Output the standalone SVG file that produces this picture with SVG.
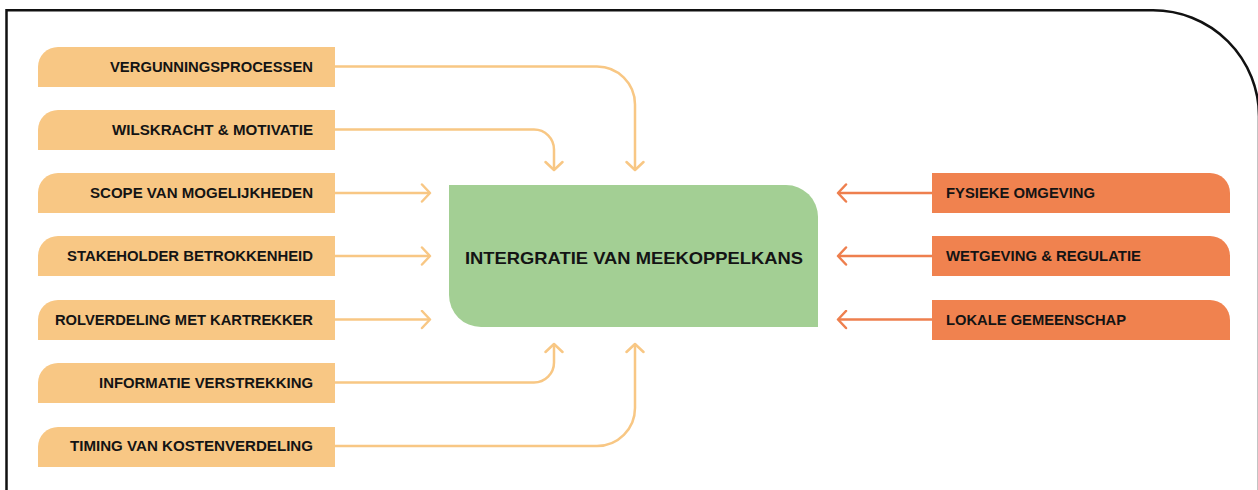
<svg xmlns="http://www.w3.org/2000/svg" width="1258" height="490" viewBox="0 0 1258 490">
<style>
.lb{fill:#F8C784}
.rb{fill:#F0824F}
.t{font-family:"Liberation Sans",Arial,sans-serif;font-weight:bold;font-size:14px;fill:#141414}
.ln{fill:none;stroke:#F8C784;stroke-width:2.5}
.rn{fill:none;stroke:#EE7F4E;stroke-width:2.5}
</style>
<defs>
<marker id="aL" markerUnits="userSpaceOnUse" markerWidth="20" markerHeight="20" viewBox="-10 -10 20 20" refX="0" refY="0" orient="auto">
<path d="M-8,-8.5 L0,0 L-8,8.5" fill="none" stroke="#F8C784" stroke-width="2.5" stroke-linecap="round" stroke-linejoin="round"/>
</marker>
<marker id="aR" markerUnits="userSpaceOnUse" markerWidth="20" markerHeight="20" viewBox="-10 -10 20 20" refX="0" refY="0" orient="auto">
<path d="M-8,-8.5 L0,0 L-8,8.5" fill="none" stroke="#EE7F4E" stroke-width="2.5" stroke-linecap="round" stroke-linejoin="round"/>
</marker>
</defs>
<rect width="1258" height="490" fill="#fff"/>
<path d="M6.5,492 L6.5,10.3 L1153,10.3 A106,106 0 0 1 1259,116.3 L1259,492" fill="none" stroke="#111" stroke-width="2.5"/>

<g id="connectors">
<path class="ln" d="M335,66.5 L597,66.5 A38,38 0 0 1 635,104.5 L635,170" marker-end="url(#aL)"/>
<path class="ln" d="M335,129.5 L534,129.5 A20,20 0 0 1 554,149.5 L554,170" marker-end="url(#aL)"/>
<path class="ln" d="M335,193 L430,193" marker-end="url(#aL)"/>
<path class="ln" d="M335,256 L430,256" marker-end="url(#aL)"/>
<path class="ln" d="M335,319.5 L430,319.5" marker-end="url(#aL)"/>
<path class="ln" d="M335,382.5 L534,382.5 A20,20 0 0 0 554,362.5 L554,344" marker-end="url(#aL)"/>
<path class="ln" d="M335,446 L597,446 A38,38 0 0 0 635,408 L635,344" marker-end="url(#aL)"/>
<path class="rn" d="M932,193 L838,193" marker-end="url(#aR)"/>
<path class="rn" d="M932,256 L838,256" marker-end="url(#aR)"/>
<path class="rn" d="M932,319.5 L838,319.5" marker-end="url(#aR)"/>
</g>

<g id="center">
<path d="M449,185 L786,185 A32,32 0 0 1 818,217 L818,327 L481,327 A32,32 0 0 1 449,295 Z" fill="#A3CF94"/>
<text class="t" x="634" y="264" text-anchor="middle" style="font-size:16.5px" textLength="338" lengthAdjust="spacingAndGlyphs">INTERGRATIE VAN MEEKOPPELKANS</text>
</g>

<g id="n1"><path class="lb" d="M38,87 L38,67 A20,20 0 0 1 58,47 L335,47 L335,87 Z"/><text class="t" x="313" y="71.5" text-anchor="end" textLength="203" lengthAdjust="spacingAndGlyphs">VERGUNNINGSPROCESSEN</text></g>
<g id="n2"><path class="lb" d="M38,150 L38,130 A20,20 0 0 1 58,110 L335,110 L335,150 Z"/><text class="t" x="313" y="134.5" text-anchor="end" textLength="201" lengthAdjust="spacingAndGlyphs">WILSKRACHT &amp; MOTIVATIE</text></g>
<g id="n3"><path class="lb" d="M38,213 L38,193 A20,20 0 0 1 58,173 L335,173 L335,213 Z"/><text class="t" x="313" y="197.5" text-anchor="end" textLength="223" lengthAdjust="spacingAndGlyphs">SCOPE VAN MOGELIJKHEDEN</text></g>
<g id="n4"><path class="lb" d="M38,276 L38,256 A20,20 0 0 1 58,236 L335,236 L335,276 Z"/><text class="t" x="313" y="260.5" text-anchor="end" textLength="246" lengthAdjust="spacingAndGlyphs">STAKEHOLDER BETROKKENHEID</text></g>
<g id="n5"><path class="lb" d="M38,340 L38,320 A20,20 0 0 1 58,300 L335,300 L335,340 Z"/><text class="t" x="313" y="324.5" text-anchor="end" textLength="258" lengthAdjust="spacingAndGlyphs">ROLVERDELING MET KARTREKKER</text></g>
<g id="n6"><path class="lb" d="M38,403 L38,383 A20,20 0 0 1 58,363 L335,363 L335,403 Z"/><text class="t" x="313" y="387.5" text-anchor="end" textLength="214" lengthAdjust="spacingAndGlyphs">INFORMATIE VERSTREKKING</text></g>
<g id="n7"><path class="lb" d="M38,467 L38,447 A20,20 0 0 1 58,427 L335,427 L335,467 Z"/><text class="t" x="313" y="451" text-anchor="end" textLength="243" lengthAdjust="spacingAndGlyphs">TIMING VAN KOSTENVERDELING</text></g>

<g id="r1"><path class="rb" d="M932,173 L1210,173 A20,20 0 0 1 1230,193 L1230,213 L932,213 Z"/><text class="t" x="946" y="198" textLength="149" lengthAdjust="spacingAndGlyphs">FYSIEKE OMGEVING</text></g>
<g id="r2"><path class="rb" d="M932,236 L1210,236 A20,20 0 0 1 1230,256 L1230,276 L932,276 Z"/><text class="t" x="946" y="261" textLength="195" lengthAdjust="spacingAndGlyphs">WETGEVING &amp; REGULATIE</text></g>
<g id="r3"><path class="rb" d="M932,300 L1210,300 A20,20 0 0 1 1230,320 L1230,340 L932,340 Z"/><text class="t" x="946" y="324.5" textLength="180" lengthAdjust="spacingAndGlyphs">LOKALE GEMEENSCHAP</text></g>
</svg>
